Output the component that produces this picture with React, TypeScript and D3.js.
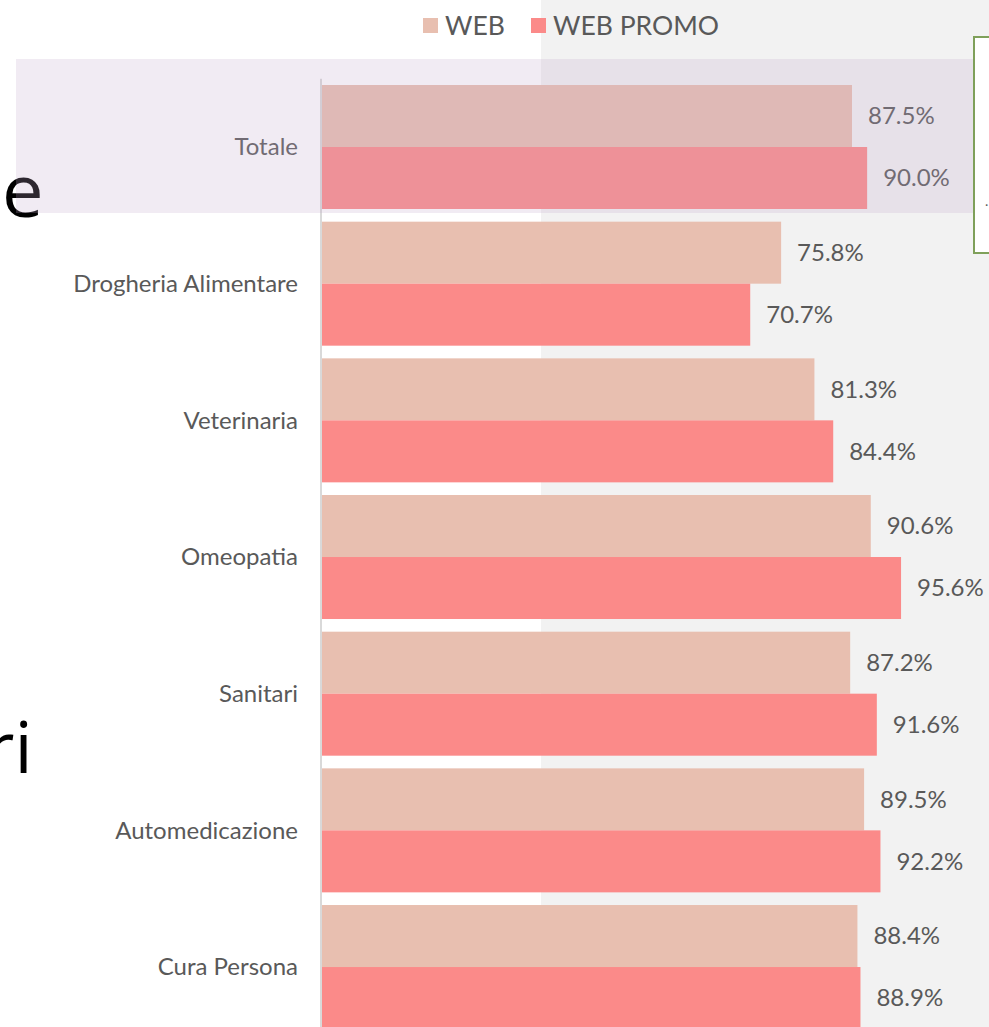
import React, { useEffect, useRef } from "react";
import * as d3 from "d3";

// categories and series
const categories = [
  "Totale",
  "Drogheria Alimentare",
  "Veterinaria",
  "Omeopatia",
  "Sanitari",
  "Automedicazione",
  "Cura Persona",
];
const seriesNames = ["WEB", "WEB PROMO"];
const webValues = [87.5, 75.8, 81.3, 90.6, 87.2, 89.5, 88.4];
const promoValues = [90.0, 70.7, 84.4, 95.6, 91.6, 92.2, 88.9];
const seriesColors = ["#e8bfb0", "#fb8a89"];

const App = () => {
  const ref = useRef<SVGSVGElement>(null);

  useEffect(() => {
    const svg = d3.select(ref.current);
    svg.selectAll("*").remove();

    const W = 989;
    const H = 1027;
    const font = "Lato, 'Open Sans', sans-serif";
    const textColor = "#595959";

    // slide background: white left, light gray right
    svg.append("rect").attr("width", W).attr("height", H).attr("fill", "#ffffff");
    svg.append("rect").attr("x", 541).attr("y", 0).attr("width", W - 541).attr("height", H).attr("fill", "#f2f2f2");

    // fragments of slide text behind the chart
    svg.append("text").attr("x", 2).attr("y", 217).attr("font-family", "'Open Sans', sans-serif")
      .attr("font-size", 74).attr("fill", "#000").text("e");
    svg.append("text").attr("x", -15).attr("y", 773).attr("font-family", "'Open Sans', sans-serif")
      .attr("font-size", 72).attr("fill", "#000").text("ri");

    // scales
    const step = 136.67;
    const pad = 0.0927;
    const y0 = 78.67;
    const y = d3.scaleBand<string>()
      .domain(categories)
      .range([y0, y0 + step * categories.length])
      .paddingInner(pad)
      .paddingOuter(pad / 2);
    const ySub = d3.scaleBand<string>().domain(seriesNames).range([0, y.bandwidth()]);
    const x = d3.scaleLinear().domain([0, 100]).range([322, 927.7]);

    const rows = categories.map((c, i) => ({ cat: c, values: [webValues[i], promoValues[i]] }));

    // bars
    const groups = svg.selectAll("g.cat").data(rows).enter().append("g")
      .attr("class", "cat")
      .attr("transform", d => `translate(0,${y(d.cat)})`);

    groups.selectAll("rect").data(d => d.values.map((v, j) => ({ v, s: seriesNames[j], j })))
      .enter().append("rect")
      .attr("x", x(0))
      .attr("y", d => ySub(d.s)!)
      .attr("width", d => x(d.v) - x(0))
      .attr("height", ySub.bandwidth())
      .attr("fill", d => seriesColors[d.j]);

    groups.selectAll("text.val").data(d => d.values.map((v, j) => ({ v, s: seriesNames[j] })))
      .enter().append("text")
      .attr("class", "val")
      .attr("x", d => x(d.v) + 16)
      .attr("y", d => ySub(d.s)! + ySub.bandwidth() / 2)
      .attr("dy", "0.35em")
      .attr("font-family", font)
      .attr("font-size", 24)
      .attr("fill", textColor)
      .text(d => d.v.toFixed(1) + "%");

    // category labels
    svg.selectAll("text.cat").data(categories).enter().append("text")
      .attr("class", "cat")
      .attr("x", 298)
      .attr("y", d => y(d)! + y.bandwidth() / 2)
      .attr("dy", "0.35em")
      .attr("text-anchor", "end")
      .attr("font-family", font)
      .attr("font-size", 24)
      .attr("fill", textColor)
      .text(d => d);

    // axis line
    svg.append("line").attr("x1", 321).attr("x2", 321).attr("y1", y0).attr("y2", H)
      .attr("stroke", "#d9d9d9").attr("stroke-width", 2);

    // highlight on the Totale row
    svg.append("rect").attr("x", 16).attr("y", 59).attr("width", 973 - 16).attr("height", 213 - 59)
      .attr("fill", "rgb(194,168,203)").attr("opacity", 0.23);

    // green bordered box at the right edge
    svg.append("rect").attr("x", 974).attr("y", 37).attr("width", 30).attr("height", 216)
      .attr("fill", "#ffffff").attr("stroke", "#7fa05a").attr("stroke-width", 2);
    svg.append("text").attr("x", 985).attr("y", 206).attr("font-family", font)
      .attr("font-size", 14).attr("fill", "#595959").text(".");

    // legend
    const legend = [
      { name: seriesNames[0], x: 423, color: seriesColors[0] },
      { name: seriesNames[1], x: 531, color: seriesColors[1] },
    ];
    const lg = svg.selectAll("g.legend").data(legend).enter().append("g")
      .attr("class", "legend")
      .attr("transform", d => `translate(${d.x},0)`);
    lg.append("rect").attr("x", 0).attr("y", 18).attr("width", 15).attr("height", 15).attr("fill", d => d.color);
    lg.append("text").attr("x", 22).attr("y", 25.5).attr("dy", "0.35em")
      .attr("font-family", font).attr("font-size", 26.5).attr("fill", textColor)
      .text(d => d.name);
  }, []);

  return (
    <div style={{ position: "absolute", left: 0, top: 0 }}>
      <svg ref={ref} width={989} height={1027} style={{ display: "block" }}></svg>
    </div>
  );
};

export default App;
